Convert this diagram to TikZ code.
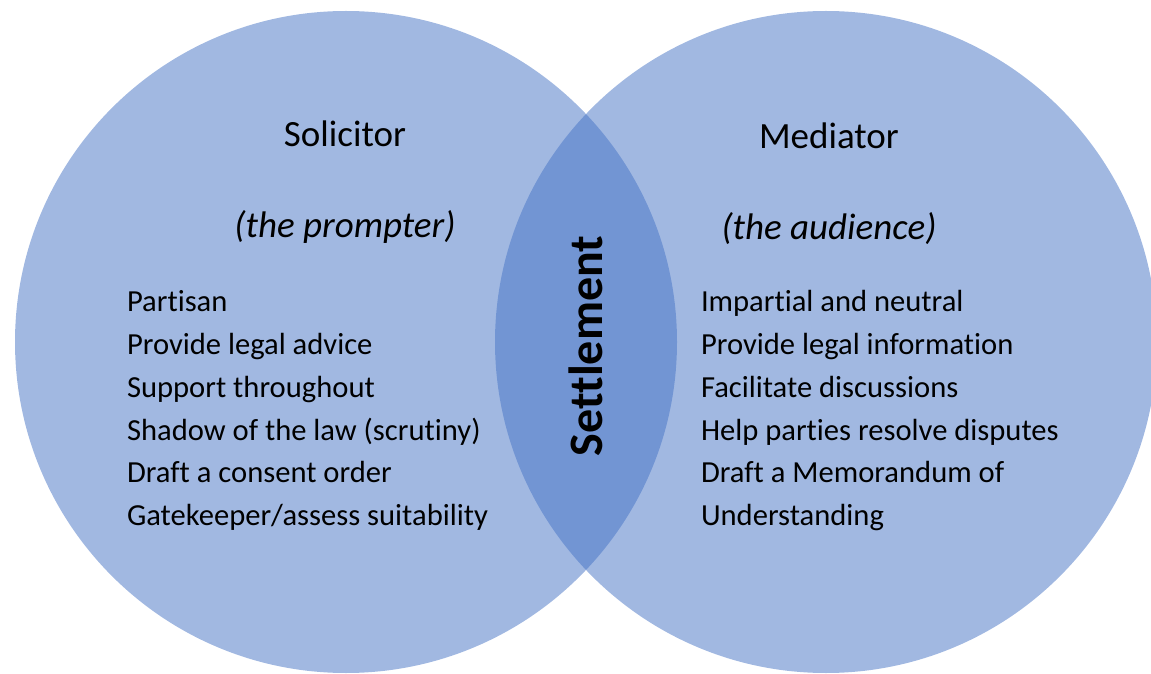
\documentclass[tikz,border=0pt]{standalone}
\usepackage{fontspec}
\setmainfont{Carlito}[Ligatures={NoCommon,NoContextual}]
\definecolor{vennblue}{HTML}{4472C4}
\begin{document}
\begin{tikzpicture}[
        x=1pt, y=1pt,
        inner sep=0pt, outer sep=0pt
    ]
    \tikzset{
        venncircle/.style = {circle, fill=vennblue, fill opacity=0.5, draw=none, minimum size=662pt},
        titlestyle/.style = {anchor=base, font=\fontsize{37}{44}\selectfont},
        rolestyle/.style = {anchor=base, font=\fontsize{37}{44}\selectfont\itshape},
        itemstyle/.style = {anchor=base west, font=\fontsize{30.6}{36}\selectfont},
        middlestyle/.style = {anchor=base, rotate=90, font=\fontsize{48}{58}\selectfont\bfseries}
    }
    \useasboundingbox (0,0) rectangle (1151,673);
    % the two overlapping circles
    \node[venncircle] (left) at (346,331) {};
    \node[venncircle] (right) at (826,331) {};
    % left side
    \node[titlestyle] (sol) at (345,526) {Solicitor};
    \node[rolestyle] (solrole) at (345,435) {(the prompter)};
    \node[itemstyle] (solA) at (127,361.0) {Partisan};
    \node[itemstyle] (solB) at (127,318.3) {Provide legal advice};
    \node[itemstyle] (solC) at (127,275.6) {Support throughout};
    \node[itemstyle] (solD) at (127,232.9) {Shadow of the law (scrutiny)};
    \node[itemstyle] (solE) at (127,190.2) {Draft a consent order};
    \node[itemstyle] (solF) at (127,147.5) {Gatekeeper/assess suitability};
    % right side
    \node[titlestyle] (med) at (829,524) {Mediator};
    \node[rolestyle] (medrole) at (829,433) {(the audience)};
    \node[itemstyle] (medA) at (701,361.0) {Impartial and neutral};
    \node[itemstyle] (medB) at (701,318.3) {Provide legal information};
    \node[itemstyle] (medC) at (701,275.6) {Facilitate discussions};
    \node[itemstyle] (medD) at (701,232.9) {Help parties resolve disputes};
    \node[itemstyle] (medE) at (701,190.2) {Draft a Memorandum of};
    \node[itemstyle] (medF) at (701,147.5) {Understanding};
    % overlap
    \node[middlestyle] (settle) at (602,327) {Settlement};
\end{tikzpicture}
\end{document}
